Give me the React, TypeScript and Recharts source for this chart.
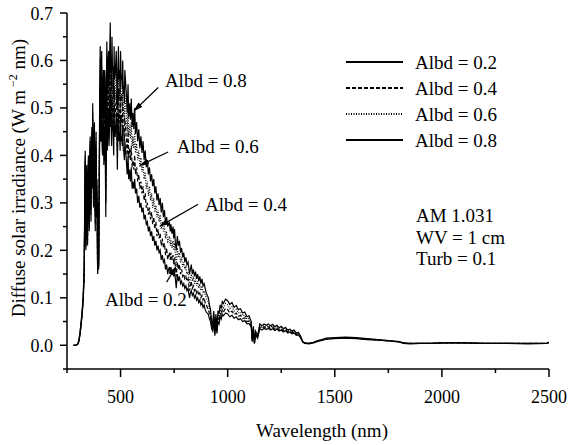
import { LineChart, Line, XAxis, YAxis, ReferenceLine, ReferenceDot } from 'recharts'

const FONT = "'Liberation Serif', 'Times New Roman', serif"

// wavelength (nm)
const wavelength = [
  280, 290, 300, 305, 310, 315, 320, 325, 330,
  335, 337, 338, 340, 342, 344, 346, 348, 350, 352, 354, 356, 358, 360, 362, 364, 366, 368, 370, 372,
  374, 376, 378, 380, 382, 384, 386, 388, 390, 393, 396, 398,
  402, 405, 407, 408, 410, 412, 414, 416, 418, 420, 422, 424, 426, 428, 431, 434, 436, 438, 440, 442,
  444, 446, 448, 450, 452, 454, 456, 458, 460, 462, 465, 468, 470, 472, 475, 478, 480, 483, 485, 488,
  490, 493, 495, 498, 500, 503, 505, 508, 510, 513, 515, 518, 520,
  527, 531, 535, 538, 542, 546, 550, 554, 558, 562, 566, 570, 575, 580, 585, 590, 595, 600, 605, 610,
  615, 620, 625, 630, 635, 640, 645, 650, 655, 660, 665, 670, 675, 680, 685, 690, 695, 700, 705, 710, 715,
  720, 724, 728, 732, 735, 740, 745, 748, 752, 756, 760, 765, 770, 775, 780, 785, 790, 795, 800, 805,
  810, 815, 822, 826, 830, 835, 840, 845, 850, 855, 860, 865, 870, 875, 880, 885, 890, 895, 900,
  910, 915, 920, 925, 930, 935, 940, 945, 950, 955, 960, 965, 970, 975, 980, 990, 1000, 1010, 1020, 1030,
  1040, 1050, 1060, 1070, 1080, 1090, 1100,
  1110, 1115, 1120, 1125, 1130, 1140, 1150, 1160, 1170, 1180, 1190, 1200, 1210, 1220, 1230, 1240, 1250, 1260, 1270, 1280,
  1290, 1300, 1310, 1320, 1330, 1340, 1350, 1360,
  1380, 1400, 1420, 1440, 1460, 1500, 1550, 1600, 1650, 1700, 1750, 1800, 1820, 1850, 1900, 1950, 2000, 2100, 2200, 2300, 2400, 2490, 2500,
]

// diffuse irradiance, W m-2 nm-1
const albd02 = [
  0, 0, .002, .008, .02, .038, .06, .088, .14,
  .38, .28, .2, .30, .35, .24, .21, .33, .37, .29, .24, .36, .40, .30, .26, .39, .41, .33, .46, .36,
  .29, .40, .42, .335, .24, .36, .40, .27, .31, .15, .26, .16,
  .42, .55, .43, .43, .48, .52, .42, .40, .46, .47, .38, .40, .46, .44, .27, .43, .50, .41, .44, .48,
  .50, .42, .45, .50, .54, .46, .47, .42, .52, .46, .45, .40, .50, .44, .44, .47, .49, .43, .37, .46,
  .49, .43, .45, .41, .48, .43, .44, .42, .46, .41, .41, .39, .43,
  .39, .36, .40, .35, .37, .345, .375, .33, .345, .33, .35, .32, .33, .30, .315, .29, .30, .28, .29, .265,
  .275, .255, .26, .24, .25, .23, .24, .22, .23, .21, .22, .20, .21, .195, .20, .18, .19, .175, .18, .16, .17,
  .15, .16, .165, .15, .165, .15, .16, .145, .155, .14, .12, .15, .135, .145, .13, .135, .125, .13, .12, .125,
  .115, .12, .10, .11, .115, .105, .11, .10, .105, .095, .10, .09, .095, .085, .09, .08, .085, .075, .07,
  .065, .055, .05, .035, .03, .05, .02, .045, .025, .05, .045, .06, .055, .065, .062, .068, .066, .06, .063, .057,
  .06, .054, .056, .05, .052, .045, .046,
  .038, .008, .03, .004, .022, .015, .035, .032, .036, .033, .036, .032, .035, .031, .034, .03, .032, .028, .031, .026,
  .028, .024, .026, .021, .022, .016, .007, .004,
  .003, .005, .008, .01, .013, .014, .015, .014, .012, .011, .009, .007, .004, .003, .004, .004, .005, .005, .004, .004, .003, .004, .006,
]
const albd04 = [
  0, 0, .002, .009, .022, .04, .064, .092, .147,
  .39, .285, .207, .31, .36, .245, .22, .34, .38, .295, .25, .37, .415, .31, .275, .40, .43, .34, .475, .37,
  .30, .41, .44, .345, .255, .37, .415, .28, .32, .153, .27, .167,
  .44, .58, .46, .455, .51, .55, .45, .425, .49, .51, .41, .43, .50, .48, .30, .47, .54, .45, .48, .52,
  .54, .46, .49, .545, .59, .50, .51, .46, .56, .505, .49, .44, .545, .48, .485, .51, .535, .47, .41, .50,
  .54, .475, .495, .45, .525, .47, .485, .46, .51, .45, .455, .43, .48,
  .435, .40, .45, .395, .415, .39, .42, .375, .39, .37, .40, .36, .375, .345, .36, .33, .345, .32, .335, .305,
  .32, .29, .30, .275, .29, .265, .28, .255, .27, .245, .26, .23, .245, .225, .235, .21, .225, .205, .215, .19, .205,
  .18, .19, .195, .18, .195, .18, .19, .17, .185, .165, .145, .175, .16, .17, .15, .16, .145, .15, .14, .145,
  .135, .14, .115, .125, .135, .12, .125, .115, .12, .11, .115, .105, .11, .10, .105, .095, .10, .09, .085,
  .075, .065, .06, .04, .035, .058, .025, .05, .03, .058, .052, .068, .062, .074, .07, .078, .075, .068, .072, .065,
  .068, .061, .063, .056, .058, .05, .051,
  .042, .008, .033, .004, .025, .017, .038, .035, .039, .036, .039, .035, .038, .034, .037, .032, .035, .03, .033, .028,
  .03, .026, .028, .023, .024, .017, .007, .004,
  .004, .005, .009, .011, .013, .015, .016, .015, .013, .011, .009, .007, .005, .004, .004, .004, .005, .005, .004, .004, .004, .004, .006,
]
const albd06 = [
  0, 0, .002, .009, .023, .043, .067, .096, .153,
  .40, .29, .213, .32, .37, .25, .23, .35, .39, .30, .26, .38, .43, .32, .29, .41, .445, .35, .49, .385,
  .315, .425, .455, .355, .27, .385, .43, .29, .335, .157, .285, .173,
  .46, .605, .49, .48, .54, .585, .48, .455, .52, .545, .44, .46, .54, .52, .33, .51, .59, .49, .52, .56,
  .58, .50, .53, .59, .635, .54, .555, .50, .605, .55, .535, .48, .59, .52, .53, .555, .58, .51, .455, .54,
  .585, .515, .54, .49, .575, .515, .53, .50, .555, .49, .50, .47, .53,
  .485, .45, .50, .44, .465, .435, .47, .42, .44, .415, .45, .405, .425, .39, .41, .375, .395, .365, .38, .35,
  .365, .33, .345, .315, .335, .305, .32, .29, .31, .28, .295, .27, .285, .26, .275, .245, .26, .24, .25, .225, .24,
  .215, .225, .23, .21, .225, .205, .22, .20, .215, .19, .17, .205, .185, .195, .175, .185, .165, .175, .16, .165,
  .15, .155, .13, .14, .15, .135, .145, .13, .14, .125, .135, .12, .13, .115, .125, .11, .115, .105, .10,
  .09, .075, .068, .045, .04, .065, .03, .058, .035, .066, .06, .076, .07, .083, .079, .088, .085, .077, .081, .072,
  .076, .068, .07, .062, .064, .055, .057,
  .046, .009, .037, .005, .028, .018, .042, .038, .042, .039, .042, .038, .041, .036, .039, .035, .037, .033, .036, .03,
  .032, .028, .03, .024, .025, .019, .008, .005,
  .004, .006, .009, .011, .014, .015, .016, .015, .013, .012, .01, .008, .005, .004, .004, .004, .005, .005, .004, .004, .004, .004, .006,
]
const albd08 = [
  0, 0, .002, .01, .025, .045, .07, .1, .16,
  .41, .30, .22, .33, .38, .26, .24, .36, .40, .31, .27, .39, .44, .33, .30, .42, .46, .36, .51, .40,
  .33, .44, .47, .37, .28, .40, .45, .30, .35, .16, .30, .18,
  .48, .63, .52, .50, .57, .62, .51, .48, .55, .58, .47, .50, .58, .56, .37, .55, .64, .53, .55, .60,
  .62, .54, .57, .63, .68, .58, .60, .54, .65, .59, .58, .52, .63, .56, .57, .60, .62, .55, .50, .58,
  .63, .56, .58, .53, .62, .56, .57, .54, .60, .53, .545, .51, .58,
  .53, .49, .55, .48, .51, .475, .52, .46, .49, .455, .50, .445, .47, .43, .455, .415, .44, .405, .43, .39,
  .41, .375, .39, .36, .375, .345, .36, .335, .35, .32, .335, .305, .32, .295, .31, .28, .30, .27, .285, .255, .27,
  .25, .255, .26, .24, .255, .235, .25, .225, .245, .215, .20, .23, .21, .22, .195, .205, .185, .195, .175, .185,
  .17, .175, .15, .16, .17, .15, .16, .145, .155, .14, .15, .135, .145, .13, .14, .125, .13, .12, .11,
  .10, .085, .075, .05, .045, .072, .035, .065, .04, .073, .067, .085, .078, .092, .088, .097, .094, .086, .09, .08,
  .084, .075, .077, .068, .07, .06, .062,
  .05, .01, .04, .005, .03, .02, .045, .041, .045, .042, .045, .041, .044, .039, .042, .037, .04, .035, .038, .032,
  .034, .03, .032, .026, .027, .02, .008, .005,
  .004, .006, .01, .012, .015, .016, .017, .016, .014, .012, .01, .008, .005, .004, .004, .004, .005, .005, .004, .004, .004, .004, .006,
]

const xTicks = [250, 500, 750, 1000, 1250, 1500, 1750, 2000, 2250, 2500]
const yTicks = [-0.05, 0, 0.05, 0.1, 0.15, 0.2, 0.25, 0.3, 0.35, 0.4, 0.45, 0.5, 0.55, 0.6, 0.65, 0.7]

const seriesNames = ['Albd = 0.2', 'Albd = 0.4', 'Albd = 0.6', 'Albd = 0.8']
const seriesDash = ['', '4 2', '1 1.5', '']

// curve labels: text anchor and arrow (from -> to), in data units
const noteText = ['Albd = 0.8', 'Albd = 0.6', 'Albd = 0.4', 'Albd = 0.2']
const noteAt = [[707, 0.559], [762, 0.42], [894, 0.297], [427, 0.0965]]
const arrowFrom = [[676, 0.543], [722, 0.407], [862, 0.297], [715, 0.133]]
const arrowTo = [[563, 0.494], [591, 0.379], [684, 0.251], [758, 0.165]]

const paramLines = ['AM 1.031', 'WV = 1 cm', 'Turb = 0.1']

const data = wavelength.map((w, i) => ({
  w,
  a02: albd02[i],
  a04: albd04[i],
  a06: albd06[i],
  a08: albd08[i],
}))

function XTick({ x, y, payload }: any) {
  const major = payload.value % 500 === 0
  return (
    <g>
      <line x1={x} x2={x} y1={y} y2={y + (major ? 8 : 4)} stroke="#000" strokeWidth={1.5} />
      {major && (
        <text x={x} y={y + 34} textAnchor="middle" fontSize={18} fontFamily={FONT} fill="#000">
          {payload.value}
        </text>
      )}
    </g>
  )
}

function YTick({ x, y, payload }: any) {
  const major = Math.round(payload.value * 100) % 10 === 0
  return (
    <g>
      <line x1={x - (major ? 7 : 4)} x2={x} y1={y} y2={y} stroke="#000" strokeWidth={1.5} />
      {major && (
        <text x={x - 14} y={y + 6.5} textAnchor="end" fontSize={18} fontFamily={FONT} fill="#000">
          {payload.value.toFixed(1)}
        </text>
      )}
    </g>
  )
}

export default function App() {
  return (
    <div style={{ position: 'absolute', left: 0, top: 0, width: 570, height: 445, background: '#fff' }}>
      <LineChart width={570} height={445} data={data} margin={{ top: 13, right: 21, left: 7, bottom: 36 }}>
        <defs>
          <marker id="arrowHead" markerWidth="10" markerHeight="6" refX="9" refY="3" orient="auto" markerUnits="userSpaceOnUse">
            <path d="M0,0 L10,3 L0,6 z" fill="#000" />
          </marker>
        </defs>
        <XAxis
          dataKey="w"
          type="number"
          domain={[250, 2500]}
          ticks={xTicks}
          interval={0}
          height={40}
          tickSize={0}
          tickMargin={0}
          tickLine={false}
          axisLine={{ stroke: '#000', strokeWidth: 1.5 }}
          tick={<XTick />}
          allowDataOverflow
        />
        <YAxis
          type="number"
          domain={[-0.05, 0.7]}
          ticks={yTicks}
          interval={0}
          width={60}
          tickSize={0}
          tickMargin={0}
          tickLine={false}
          axisLine={{ stroke: '#000', strokeWidth: 1.5 }}
          tick={<YTick />}
          allowDataOverflow
        />
        {(['a02', 'a04', 'a06', 'a08'] as const).map((k, i) => (
          <Line
            key={k}
            dataKey={k}
            name={seriesNames[i]}
            type="linear"
            stroke="#000"
            strokeWidth={1.2}
            strokeDasharray={seriesDash[i] || undefined}
            dot={false}
            activeDot={false}
            isAnimationActive={false}
          />
        ))}
        {noteText.map((t, i) => (
          <ReferenceLine
            key={'arr' + i}
            segment={[
              { x: arrowFrom[i][0], y: arrowFrom[i][1] },
              { x: arrowTo[i][0], y: arrowTo[i][1] },
            ]}
            stroke="#000"
            strokeWidth={1.2}
            ifOverflow="visible"
            markerEnd="url(#arrowHead)"
          />
        ))}
        {noteText.map((t, i) => (
          <ReferenceDot
            key={'lbl' + i}
            x={noteAt[i][0]}
            y={noteAt[i][1]}
            r={0}
            stroke="none"
            ifOverflow="visible"
            label={{ value: t, position: 'right', offset: 0, fill: '#000', fontSize: 19, fontFamily: FONT }}
          />
        ))}
      </LineChart>
      <svg
        width={570}
        height={445}
        style={{ position: 'absolute', left: 0, top: 0, pointerEvents: 'none' }}
        fontFamily={FONT}
        fill="#000"
      >
        {seriesNames.map((n, i) => (
          <g key={n}>
            <line
              x1={346}
              x2={403}
              y1={62 + i * 26}
              y2={62 + i * 26}
              stroke="#000"
              strokeWidth={2}
              strokeDasharray={seriesDash[i] || undefined}
            />
            <text x={415} y={68.5 + i * 26} fontSize={19}>
              {n}
            </text>
          </g>
        ))}
        {paramLines.map((p, i) => (
          <text key={p} x={416} y={222 + i * 21.5} fontSize={19}>
            {p}
          </text>
        ))}
        <text x={322} y={437} textAnchor="middle" fontSize={19}>
          Wavelength (nm)
        </text>
        <text transform="translate(25,178) rotate(-90)" textAnchor="middle" fontSize={19}>
          Diffuse solar irradiance (W m
          <tspan fontSize={12} dy={-8}> −2</tspan>
          <tspan dy={8}> nm)</tspan>
        </text>
      </svg>
    </div>
  )
}
